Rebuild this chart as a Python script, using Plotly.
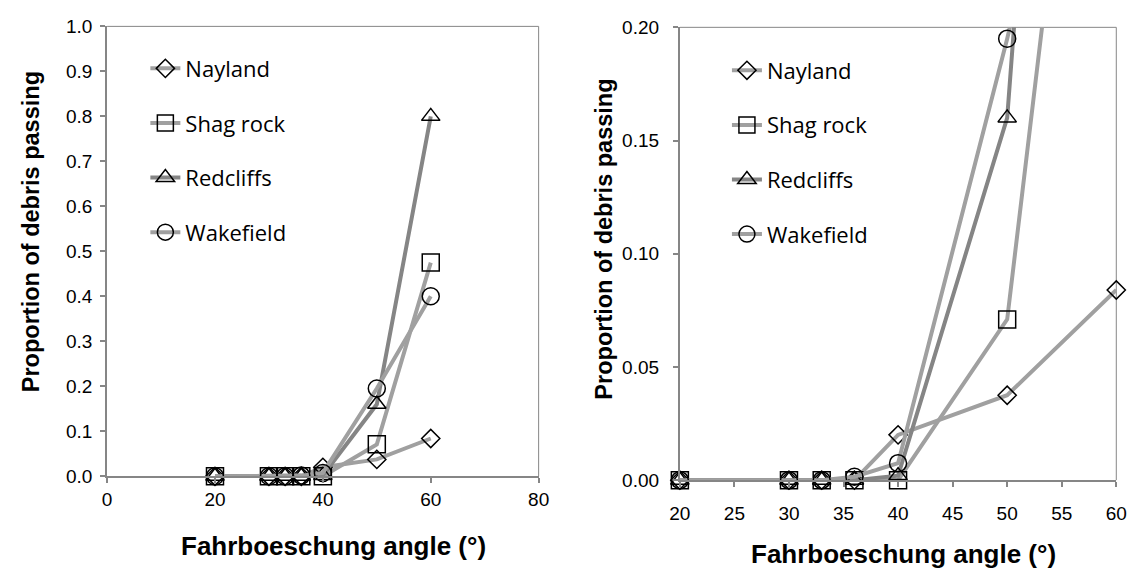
import plotly.graph_objects as go

# Fahrboeschung angles tested (degrees)
angles = [20, 30, 33, 36, 40, 50, 60]

# Proportion of debris passing, per site
nayland = [0, 0, 0, 0, 0.020, 0.0375, 0.084]
shag_rock = [0, 0, 0, 0, 0, 0.071, 0.475]
redcliffs = [0, 0, 0, 0, 0.002, 0.160, 0.800]
wakefield = [0, 0, 0, 0.0015, 0.0075, 0.195, 0.400]

site_names = ["Nayland", "Shag rock", "Redcliffs", "Wakefield"]
site_values = [nayland, shag_rock, redcliffs, wakefield]
site_symbols = ["diamond-open", "square-open", "triangle-up-open", "circle-open"]
site_sizes = [14, 17, 16, 17]
site_colors = ["#a0a0a0", "#a0a0a0", "#858585", "#a0a0a0"]

X_TITLE = "Fahrboeschung angle (°)"
Y_TITLE = "Proportion of debris passing"

W, H = 1142, 574
AXIS_GREY = "#868686"
TICK_FONT = dict(family="Liberation Sans, Arial, sans-serif", size=19, color="black")
XTITLE_FONT = dict(family="Liberation Sans, Arial, sans-serif", size=26, color="black", weight="bold")
YTITLE_FONT = dict(family="Liberation Sans, Arial, sans-serif", size=23.5, color="black", weight="bold")
LEGEND_FONT = dict(family="Open Sans, sans-serif", size=22, color="black")

fig = go.Figure()

panels = [("x", "y", "legend"), ("x2", "y2", "legend2")]
for xa, ya, lg in panels:
    for name, vals, sym, size, col in zip(site_names, site_values, site_symbols, site_sizes, site_colors):
        fig.add_trace(go.Scatter(
            x=angles, y=vals, name=name, mode="lines+markers",
            xaxis=xa, yaxis=ya, legend=lg, legendgroup=lg + name,
            line=dict(color=col, width=4),
            marker=dict(symbol=sym, size=size, color="black", line=dict(color="black", width=1.5)),
            cliponaxis=False,
        ))


def px_x(p):
    return p / W


def px_y(p):
    return 1 - p / H


axis_common = dict(
    showline=True, linecolor=AXIS_GREY, linewidth=2,
    ticks="outside", ticklen=5, tickwidth=1.5, tickcolor=AXIS_GREY,
    showgrid=False, zeroline=False, tickfont=TICK_FONT,
)

fig.update_layout(
    width=W, height=H,
    margin=dict(l=0, r=0, t=0, b=0),
    paper_bgcolor="white", plot_bgcolor="white",
    xaxis=dict(domain=[px_x(98), px_x(538)], range=[0, 80], dtick=20,
               anchor="y", **axis_common),
    yaxis=dict(domain=[px_y(484), px_y(17)], range=[0, 1], dtick=0.1, tickformat=".1f",
               ticklabelstandoff=4, anchor="x", **axis_common),
    xaxis2=dict(domain=[px_x(682), px_x(1127)], range=[20, 60], dtick=5, ticklabelstandoff=10,
                anchor="y2", **axis_common),
    yaxis2=dict(domain=[px_y(488), px_y(18)], range=[0, 0.2], dtick=0.05, tickformat=".2f",
                ticklabelstandoff=10, anchor="x2", **axis_common),
    legend=dict(x=px_x(137), y=px_y(39), xanchor="left", yanchor="top",
                bgcolor="rgba(0,0,0,0)", font=LEGEND_FONT, tracegroupgap=23),
    legend2=dict(x=px_x(730), y=px_y(41), xanchor="left", yanchor="top",
                 bgcolor="rgba(0,0,0,0)", font=LEGEND_FONT, tracegroupgap=23),
    showlegend=True,
)

# axis titles
for cx, cy in [(329, 556), (910, 565)]:
    fig.add_annotation(text=X_TITLE, xref="paper", yref="paper", x=px_x(cx), y=px_y(cy),
                       xanchor="center", yanchor="middle", showarrow=False, font=XTITLE_FONT)
for cx, cy in [(20, 230), (605, 238)]:
    fig.add_annotation(text=Y_TITLE, xref="paper", yref="paper", x=px_x(cx), y=px_y(cy),
                       xanchor="center", yanchor="middle", showarrow=False, textangle=-90,
                       font=YTITLE_FONT)

# thin frame on the top and right of each plot area
for xr, yr in [("x domain", "y domain"), ("x2 domain", "y2 domain")]:
    fig.add_shape(type="line", xref=xr, yref=yr, x0=0, x1=1, y0=1, y1=1,
                  line=dict(color=AXIS_GREY, width=1), layer="below")
    fig.add_shape(type="line", xref=xr, yref=yr, x0=1, x1=1, y0=0, y1=1,
                  line=dict(color=AXIS_GREY, width=1), layer="below")

fig.write_html("out.html")
